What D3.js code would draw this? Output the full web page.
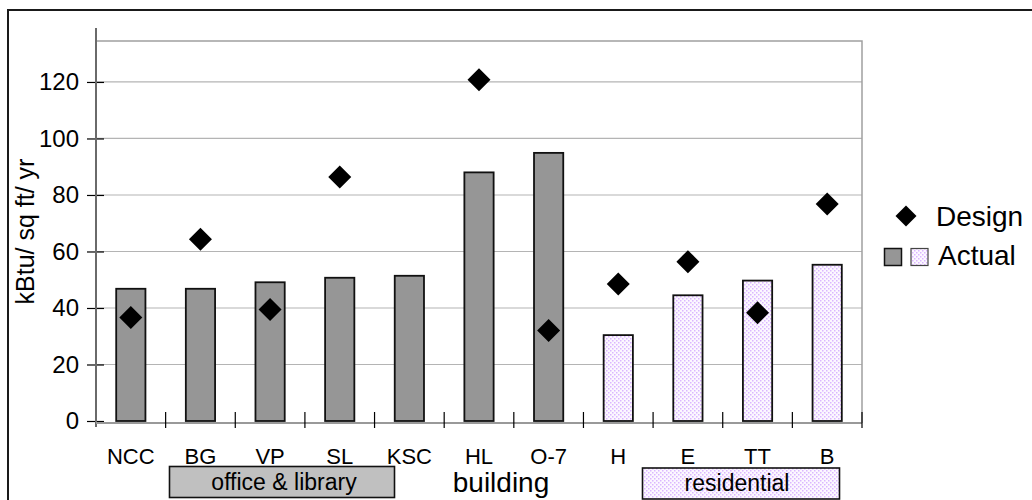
<!DOCTYPE html>
<html>
<head>
<meta charset="utf-8">
<script src="https://cdn.jsdelivr.net/npm/d3@7/dist/d3.min.js"></script>
<style>
  html, body { margin: 0; padding: 0; background: #fff; }
  svg { display: block; font-family: "Liberation Sans", Arial, sans-serif; }
</style>
</head>
<body>
<div id="chart"></div>
<script>
// data
const buildings = ["NCC", "BG", "VP", "SL", "KSC", "HL", "O-7", "H", "E", "TT", "B"];
const buildingType = ["office", "office", "office", "office", "office", "office", "office",
  "residential", "residential", "residential", "residential"];
const actual = [46.8, 46.8, 49.1, 50.7, 51.4, 88.0, 94.9, 30.4, 44.5, 49.7, 55.3];
const design = [36.6, 64.3, 39.5, 86.4, null, 120.8, 32.0, 48.5, 56.4, 38.3, 76.8];
const yTicks = [0, 20, 40, 60, 80, 100, 120];

const width = 1032, height = 500;
const plot = {left: 96, right: 862, top: 41, zero: 421, axis: 423};

const svg = d3.select("#chart").append("svg")
  .attr("width", width)
  .attr("height", height);

// dotted fill for the residential bars
const pat = svg.append("defs").append("pattern")
  .attr("id", "dots")
  .attr("patternUnits", "userSpaceOnUse")
  .attr("width", 4)
  .attr("height", 4);
pat.append("rect").attr("width", 4).attr("height", 4).attr("fill", "#fcf8ff");
pat.append("rect").attr("x", 0).attr("y", 0).attr("width", 1.5).attr("height", 1.5).attr("fill", "#dbb6ff");
pat.append("rect").attr("x", 2).attr("y", 2).attr("width", 1.5).attr("height", 1.5).attr("fill", "#dbb6ff");

const fillFor = t => t === "office" ? "#969696" : "url(#dots)";

// outer chart frame
svg.append("rect")
  .attr("x", 8).attr("y", 10)
  .attr("width", 1100).attr("height", 600)
  .attr("fill", "none")
  .attr("stroke", "#1a1a1a")
  .attr("stroke-width", 2);

let x = d3.scaleBand()
  .domain(buildings)
  .range([plot.left, plot.right])
  .paddingInner(0.58)
  .paddingOuter(0.29);

let y = d3.scaleLinear()
  .domain([0, 134.5])
  .range([plot.zero, plot.top]);

// gridlines
svg.append("g")
  .selectAll("line")
  .data(yTicks.filter(d => d > 0))
  .join("line")
  .attr("x1", plot.left).attr("x2", plot.right)
  .attr("y1", d => y(d)).attr("y2", d => y(d))
  .attr("stroke", "#b4b4b4")
  .attr("stroke-width", 1.2);

// plot top and right border
svg.append("path")
  .attr("d", `M${plot.left},${plot.top}H${plot.right}V${plot.axis}`)
  .attr("fill", "none")
  .attr("stroke", "#a0a0a0")
  .attr("stroke-width", 1.5);

// y axis
const yAxis = g => g
  .attr("transform", `translate(${plot.left},0)`)
  .call(d3.axisLeft(y).tickValues(yTicks).tickSize(0).tickPadding(17))
  .call(g => g.select(".domain").remove())
  .call(g => g.selectAll(".tick text")
    .attr("font-size", "24px")
    .attr("font-family", "Liberation Sans, Arial, sans-serif")
    .attr("fill", "#000"))
  .call(g => g.selectAll(".tick").append("line")
    .attr("x1", -9).attr("x2", 8)
    .attr("stroke", "#000")
    .attr("stroke-width", 1.2));
svg.append("g").call(yAxis);

svg.append("line")
  .attr("x1", plot.left).attr("x2", plot.left)
  .attr("y1", plot.top - 13).attr("y2", plot.axis + 4)
  .attr("stroke", "#6a6a6a")
  .attr("stroke-width", 2);

// bars
svg.append("g")
  .selectAll("rect")
  .data(buildings)
  .join("rect")
  .attr("x", d => x(d))
  .attr("width", x.bandwidth())
  .attr("y", (d, i) => y(actual[i]))
  .attr("height", (d, i) => y(0) - y(actual[i]))
  .attr("fill", (d, i) => fillFor(buildingType[i]))
  .attr("stroke", "#111")
  .attr("stroke-width", 1.8);

// x axis line and boundary ticks
svg.append("line")
  .attr("x1", plot.left).attr("x2", plot.right)
  .attr("y1", plot.axis).attr("y2", plot.axis)
  .attr("stroke", "#999")
  .attr("stroke-width", 2);

svg.append("g")
  .selectAll("line")
  .data(d3.range(1, buildings.length + 1))
  .join("line")
  .attr("x1", i => plot.left + i * x.step())
  .attr("x2", i => plot.left + i * x.step())
  .attr("y1", plot.axis - 11).attr("y2", plot.axis + 5)
  .attr("stroke", "#000")
  .attr("stroke-width", 1.2);

// category labels
svg.append("g")
  .selectAll("text")
  .data(buildings)
  .join("text")
  .attr("x", d => x(d) + x.bandwidth() / 2)
  .attr("y", 464)
  .attr("text-anchor", "middle")
  .attr("font-size", "22px")
  .text(d => d);

// design diamonds
const diamond = "M0,-11.5L11.5,0L0,11.5L-11.5,0Z";
svg.append("g")
  .selectAll("path")
  .data(buildings.map((b, i) => ({b, v: design[i]})).filter(d => d.v !== null))
  .join("path")
  .attr("transform", d => `translate(${x(d.b) + x.bandwidth() / 2},${y(d.v)})`)
  .attr("d", diamond)
  .attr("fill", "#000");

// group boxes
svg.append("rect")
  .attr("x", 169.5).attr("y", 466.5).attr("width", 225).attr("height", 31)
  .attr("fill", "#c0c0c0").attr("stroke", "#111").attr("stroke-width", 1.6);
svg.append("text")
  .attr("x", 284).attr("y", 490)
  .attr("text-anchor", "middle").attr("font-size", "23px")
  .text("office & library");

svg.append("rect")
  .attr("x", 642.5).attr("y", 468).attr("width", 197).attr("height", 31)
  .attr("fill", "url(#dots)").attr("stroke", "#111").attr("stroke-width", 1.6);
svg.append("text")
  .attr("x", 737).attr("y", 491)
  .attr("text-anchor", "middle").attr("font-size", "23px")
  .text("residential");

svg.append("text")
  .attr("x", 501).attr("y", 492)
  .attr("text-anchor", "middle").attr("font-size", "28px")
  .text("building");

// y axis title
svg.append("text")
  .attr("transform", `translate(34,${(153 + 310) / 2})rotate(-90)`)
  .attr("text-anchor", "middle")
  .attr("font-size", "25px")
  .text("kBtu/ sq ft/ yr");

// legend
const legend = svg.append("g");
legend.append("path")
  .attr("transform", "translate(906,216)")
  .attr("d", "M0,-10.5L10.5,0L0,10.5L-10.5,0Z")
  .attr("fill", "#000");
legend.append("text")
  .attr("x", 936).attr("y", 226)
  .attr("font-size", "28px")
  .text("Design");
legend.append("rect")
  .attr("x", 884.5).attr("y", 248.5).attr("width", 17).attr("height", 17)
  .attr("fill", "#969696").attr("stroke", "#111").attr("stroke-width", 1.5);
legend.append("rect")
  .attr("x", 911).attr("y", 248.5).attr("width", 17).attr("height", 17)
  .attr("fill", "url(#dots)").attr("stroke", "#444").attr("stroke-width", 1.2);
legend.append("text")
  .attr("x", 938).attr("y", 265)
  .attr("font-size", "28px")
  .text("Actual");
</script>
</body>
</html>
